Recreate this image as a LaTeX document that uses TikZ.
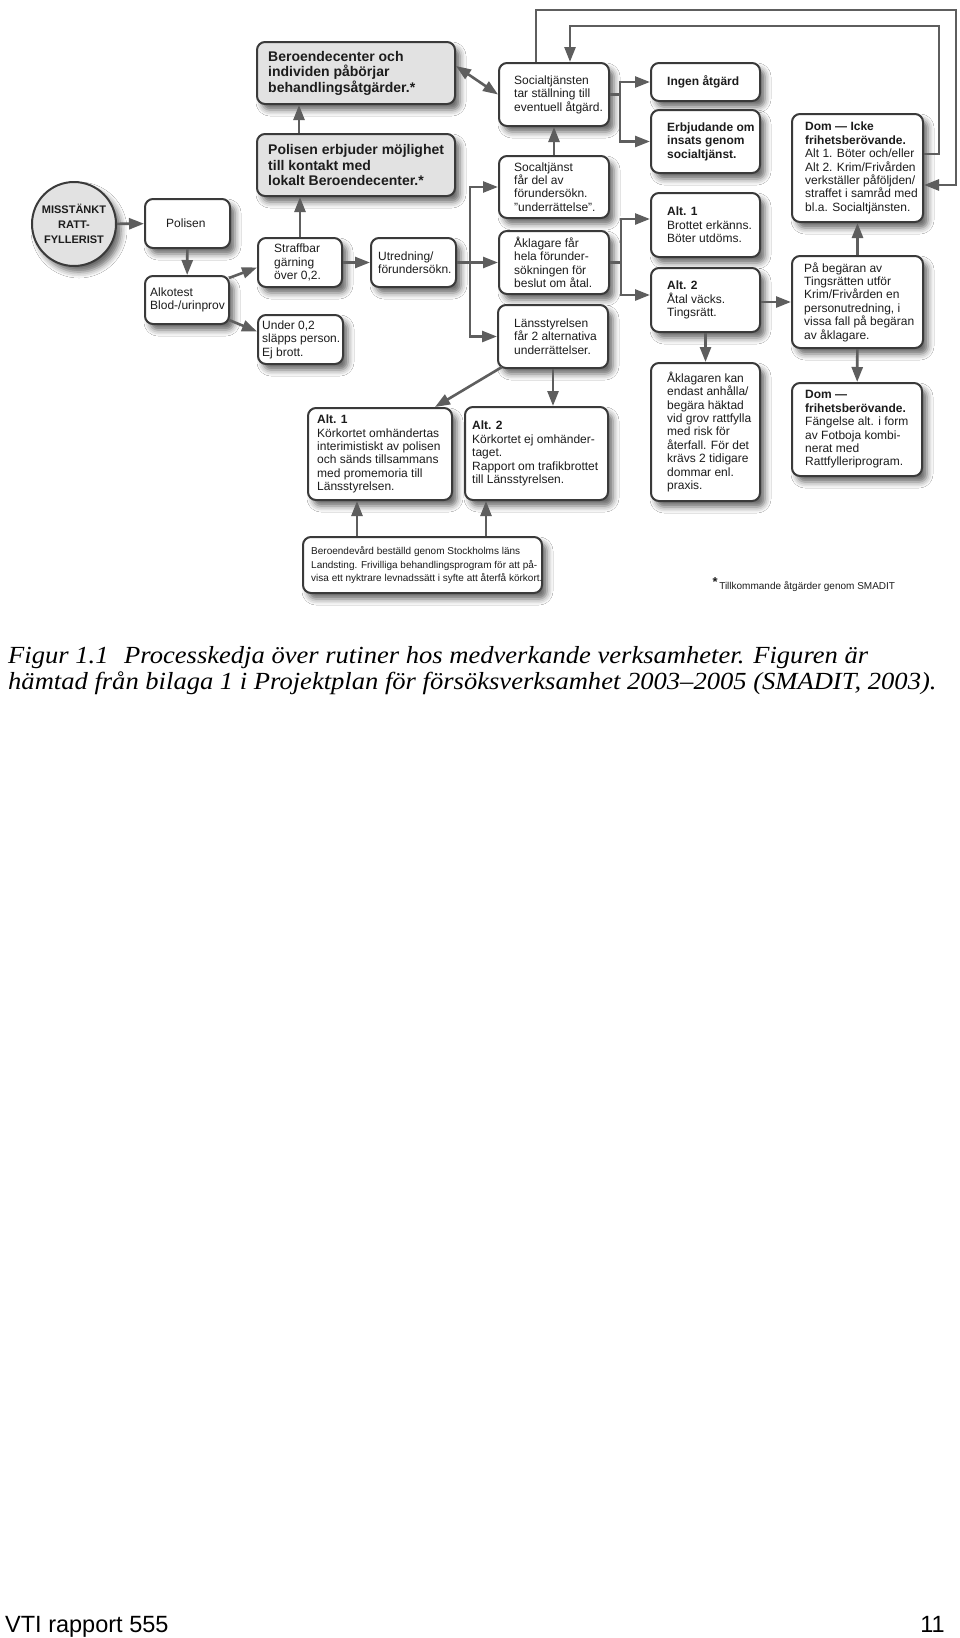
\documentclass[tikz,border=0pt]{standalone}
\usepackage{fontspec}
\setmainfont{Liberation Sans}
\newfontfamily\serifface{Liberation Serif}[FakeStretch=1.08]
\usetikzlibrary{arrows.meta,calc,shadows.blur}
\definecolor{paper}{HTML}{FFFFFF}
\definecolor{ink}{HTML}{1C1C1C}
\definecolor{edge}{HTML}{3A3A3A}
\definecolor{wire}{HTML}{5E5E5E}
\definecolor{shade}{HTML}{E2E2E2}
\tikzset{
  flow/.style={draw=edge,line width=2pt,rounded corners=8pt,fill=paper,
    blur shadow={shadow xshift=5pt,shadow yshift=-6pt,
                 shadow blur radius=6pt,shadow opacity=60}},
  flowgrey/.style={flow,fill=shade},
  flowtext/.style={inner sep=0pt,align=left,text=ink},
  suspectcircle/.style={circle,draw=edge,line width=2pt,fill=shade,
    minimum size=84pt,inner sep=0pt,align=center,text=ink,
    font=\suspectfont,
    blur shadow={shadow xshift=5pt,shadow yshift=-6pt,
                 shadow blur radius=6pt,shadow opacity=60}},
  wireline/.style={draw=wire,line width=2.6pt},
  arr/.style={wireline,-{Triangle[length=15pt,width=11pt]}},
  arrboth/.style={wireline,{Triangle[length=15pt,width=11pt]}-{Triangle[length=15pt,width=11pt]}}
}
\newcommand{\flowfont}{\fontsize{12}{13.4}\selectfont}
\newcommand{\flowboldfont}{\bfseries\fontsize{14}{15.5}\selectfont}
\newcommand{\suspectfont}{\bfseries\fontsize{11}{14.7}\selectfont}
\newcommand{\carefont}{\fontsize{10}{13.6}\selectfont}
\newcommand{\starnotefont}{\fontsize{10}{12}\selectfont}
\newcommand{\figcapfont}{\serifface\itshape\fontsize{24.6}{23}\selectfont}
\newcommand{\pagefootfont}{\fontsize{23.5}{26}\selectfont}
% box from corners (x1,y1)-(x2,y2), text set in from the left edge
\newcommand{\flowbox}[9]{%
  \node[#1,minimum width={#5-#3},minimum height={#6-#4}] (#2)
    at ({(#3+#5)/2},{(#4+#6)/2}) {};
  \node[flowtext,anchor=west,font=#8] (#2-txt) at ($(#2.west)+(#7,0)$) {#9};
}

\begin{document}
\begin{tikzpicture}[x=1pt,y=-1pt]
  \fill[paper] (0,0) rectangle (960,1638);
  \useasboundingbox (0,0) rectangle (960,1638);

  % ===================== POLICE CHAIN (left) =====================
  \node[suspectcircle] (suspect) at (74,224) {MISSTÄNKT\\RATT-\\FYLLERIST};
  \flowbox{flow}{police}{145}{199}{230}{248}{22}{\flowfont}{Polisen}
  \flowbox{flow}{alcotest}{145}{276}{229}{324}{6}{\flowfont}{Alkotest\\Blod-/urinprov}
  \flowbox{flow}{crime}{258}{238}{342}{287}{17}{\flowfont}{Straffbar\\gärning\\över 0,2.}
  \flowbox{flow}{release}{258}{315}{343}{364}{5}{\flowfont}{Under 0,2\\släpps person.\\Ej brott.}
  \flowbox{flow}{inquiry}{371}{238}{456}{287}{8}{\flowfont}{Utredning/\\förundersökn.}
  \flowbox{flowgrey}{offer}{257}{134}{455}{196}{12}{\flowboldfont}
    {Polisen erbjuder möjlighet\\till kontakt med\\lokalt Beroendecenter.*}
  \flowbox{flowgrey}{addiction}{257}{42}{455}{104}{12}{\flowboldfont}
    {Beroendecenter och\\individen påbörjar\\behandlingsåtgärder.*}

  % ===================== AUTHORITIES (middle) =====================
  \flowbox{flow}{social}{499}{63}{609}{126}{16}{\flowfont}
    {Socialtjänsten\\tar ställning till\\eventuell åtgärd.}
  \flowbox{flow}{socinfo}{499}{156}{609}{218}{16}{\flowfont}
    {Socaltjänst\\får del av\\förundersökn.\\"underrättelse".}
  \flowbox{flow}{prosecutor}{499}{231}{609}{294}{16}{\flowfont}
    {Åklagare får\\hela förunder-\\sökningen för\\beslut om åtal.}
  \flowbox{flow}{county}{498}{305}{608}{368}{17}{\flowfont}
    {Länsstyrelsen\\får 2 alternativa\\underrättelser.}
  \flowbox{flow}{licence1}{308}{408}{452}{500}{10}{\flowfont}
    {\textbf{Alt. 1}\\Körkortet omhändertas\\interimistiskt av polisen\\och sänds tillsammans\\med promemoria till\\Länsstyrelsen.}
  \flowbox{flow}{licence2}{465}{407}{608}{500}{8}{\flowfont}
    {\textbf{Alt. 2}\\Körkortet ej omhänder-\\taget.\\Rapport om trafikbrottet\\till Länsstyrelsen.}
  \flowbox{flow}{care}{303}{537}{542}{593}{9}{\carefont}
    {Beroendevård beställd genom Stockholms läns\\Landsting. Frivilliga behandlingsprogram för att på-\\visa ett nyktrare levnadssätt i syfte att återfå körkort.}

  % ===================== OUTCOMES (right) =====================
  \flowbox{flow}{noaction}{651}{63}{760}{101}{17}{\flowfont\bfseries}{Ingen åtgärd}
  \flowbox{flow}{offerins}{651}{110}{760}{173}{17}{\flowfont\bfseries}
    {Erbjudande om\\insats genom\\socialtjänst.}
  \flowbox{flow}{fine}{651}{193}{760}{257}{17}{\flowfont}
    {\textbf{Alt. 1}\\Brottet erkänns.\\Böter utdöms.}
  \flowbox{flow}{trial}{651}{268}{760}{332}{17}{\flowfont}
    {\textbf{Alt. 2}\\Åtal väcks.\\Tingsrätt.}
  \flowbox{flow}{custody}{651}{363}{760}{501}{17}{\flowfont}
    {Åklagaren kan\\endast anhålla/\\begära häktad\\vid grov rattfylla\\med risk för\\återfall. För det\\krävs 2 tidigare\\dommar enl.\\praxis.}
  \flowbox{flow}{sentence}{792}{114}{923}{222}{14}{\flowfont}
    {\textbf{Dom — Icke}\\\textbf{frihetsberövande.}\\Alt 1. Böter och/eller\\Alt 2. Krim/Frivården\\verkställer påföljden/\\straffet i samråd med\\bl.a. Socialtjänsten.}
  \flowbox{flow}{probation}{792}{256}{923}{348}{13}{\flowfont}
    {På begäran av\\Tingsrätten utför\\Krim/Frivården en\\personutredning, i\\vissa fall på begäran\\av åklagare.}
  \flowbox{flow}{prison}{792}{383}{922}{476}{14}{\flowfont}
    {\textbf{Dom —}\\\textbf{frihetsberövande.}\\Fängelse alt. i form\\av Fotboja kombi-\\nerat med\\Rattfylleriprogram.}

  % ===================== CONNECTORS =====================
  \draw[arr] (suspect) -- (police);
  \draw[arr] (police) -- (alcotest);
  \draw[arr] ($(alcotest.north east)+(-1,3)$) -- ($(crime.west)+(0,5)$);
  \draw[arr] ($(alcotest.south east)+(-1,-5)$) -- ($(release.west)+(0,-8)$);
  \draw[arr] (crime) -- (crime |- offer.south);
  \draw[arr] ($(offer.north west)+(43,0)$) -- ($(addiction.south west)+(43,0)$);
  \draw[arr] (crime) -- (inquiry);

  \draw[arr] (inquiry) -- (prosecutor);
  \coordinate (fork) at ($(inquiry.east)+(13,0)$);
  \draw[arr] (fork) |- (socinfo);
  \draw[arr] (fork) |- (county);

  \draw[arrboth] ($(addiction.east)+(0,-7)$) -- (social.west);
  \draw[arr] (socinfo) -- (social);
  \draw[wireline] (social.east) -- ++(10,0) coordinate (forkb);
  \draw[arr] (forkb) |- (noaction);
  \draw[arr] (forkb) |- (offerins);

  \draw[wireline] (prosecutor.east) -- ++(11,0) coordinate (forkc);
  \draw[arr] (forkc) |- ($(fine.west)+(0,-6)$);
  \draw[arr] (forkc) |- ($(trial.west)+(0,-5)$);

  \draw[arr] (trial.east |- probation.west) -- (probation.west);
  \draw[arr] (probation) -- (sentence);
  \draw[arr] (probation) -- (prison);
  \draw[arr] (trial) -- (custody);

  \draw[arr] ($(county.south west)+(5,-2)$) -- ($(licence1.north east)+(-18,0)$);
  \draw[arr] (county.south) -- (county.south |- licence2.north);
  \coordinate (careA) at ($(care.north west)+(55,0)$);
  \coordinate (careB) at ($(care.north west)+(184,0)$);
  \draw[arr] (careA) -- (careA |- licence1.south);
  \draw[arr] (careB) -- (careB |- licence2.south);

  % feedback loops over the top
  \draw[arr] ($(sentence.east)+(0,-14)$) -- ++(15,0)
    |- ($(social.north west)+(72,-36)$) -- ($(social.north west)+(72,0)$);
  \draw[arr] ($(social.north west)+(38,0)$)
    |- ($(sentence.east)+(32,-158)$) |- ($(sentence.east)+(0,17)$);

  % footnote
  \node[anchor=base west,font=\starnotefont,text=ink] (starnote) at (709,589)
    {\raisebox{3pt}{\fontsize{13}{13}\selectfont\bfseries *}\,Tillkommande åtgärder genom SMADIT};

  % ===================== CAPTION AND PAGE FOOT =====================
  \node[anchor=base west,font=\figcapfont,text=black,inner sep=0pt] (caption1) at (8,663)
    {Figur 1.1\hspace{9pt} Processkedja över rutiner hos medverkande verksamheter. Figuren är};
  \node[anchor=base west,font=\figcapfont,text=black,inner sep=0pt] (caption2) at (8,689)
    {hämtad från bilaga 1 i Projektplan för försöksverksamhet 2003–2005 (SMADIT, 2003).};
  \node[anchor=base west,font=\pagefootfont,text=black,inner sep=0pt] (report) at (5,1632)
    {VTI rapport 555};
  \node[anchor=base east,font=\pagefootfont,text=black,inner sep=0pt] (pageno) at (945,1632)
    {11};
\end{tikzpicture}
\end{document}
